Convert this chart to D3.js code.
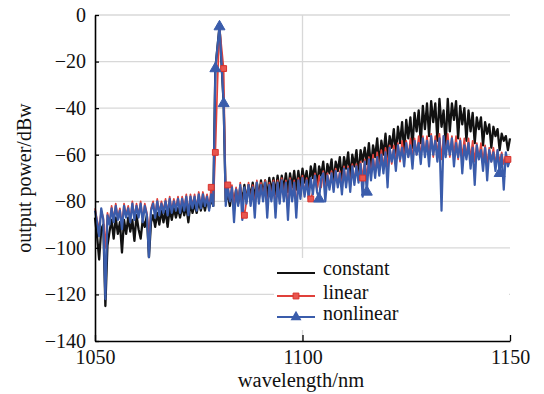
<!DOCTYPE html>
<html><head><meta charset="utf-8">
<script src="https://cdn.jsdelivr.net/npm/d3@7"></script>
<style>body{margin:0;background:#fff}svg{display:block}text{font-family:"Liberation Serif","Times New Roman",serif;}</style>
</head><body>
<svg id="c" width="544" height="394"></svg>
<script>
// ---- data (wavelength grid: 1050 .. 1150 nm, 0.5 nm step) ----
const startNm = 1050, stepNm = 0.5;
const constantVals = [
-87,-95,-105,-92,-90,-125,-99,-93,-88,-96,
-87,-94,-89,-102,-88,-94,-87,-93,-88,-97,
-86,-92,-96,-88,-91,-86,-104,-89,-86,-91,
-85,-90,-84,-89,-84,-91,-83,-88,-83,-87,
-83,-87,-82,-86,-82,-89,-81,-85,-81,-85,
-80,-84,-80,-84,-79,-83,-79,-82,-23,-14,
-5,-21,-38,-80,-77,-82,-76,-81,-75,-81,
-74,-80,-73,-80,-73,-78,-72,-79,-72,-78,
-71,-77,-71,-78,-70,-76,-70,-77,-69,-76,
-69,-75,-68,-76,-68,-74,-67,-75,-67,-74,
-66,-72,-67,-75,-65,-70,-64,-74,-65,-69,
-63,-73,-64,-68,-62,-72,-63,-67,-61,-71,
-61,-66,-59,-70,-60,-65,-58,-69,-58,-63,
-57,-64,-55,-66,-56,-61,-53,-65,-54,-60,
-51,-62,-52,-57,-49,-60,-48,-55,-46,-59,
-45,-53,-44,-57,-42,-50,-41,-55,-39,-49,
-38,-52,-37,-46,-38,-54,-36,-48,-41,-56,
-36,-50,-38,-45,-37,-53,-39,-47,-40,-54,
-41,-50,-42,-55,-44,-49,-44,-56,-46,-51,
-47,-57,-48,-52,-49,-58,-51,-54,-52,-58,
-53];
const linearVals = [
-83,-88,-92,-84,-87,-100,-85,-89,-82,-88,
-81,-87,-83,-90,-81,-86,-82,-88,-80,-87,
-81,-86,-80,-88,-81,-85,-95,-83,-80,-86,
-79,-85,-80,-84,-79,-85,-78,-84,-79,-83,
-78,-84,-78,-83,-77,-85,-77,-82,-77,-83,
-76,-82,-76,-81,-77,-83,-74,-81,-59,-30,
-5,-14,-23,-79,-73,-80,-73,-82,-74,-81,
-72,-82,-86,-80,-72,-81,-73,-83,-71,-80,
-72,-79,-71,-84,-72,-79,-71,-83,-71,-80,
-70,-79,-71,-84,-70,-79,-71,-83,-70,-78,
-69,-77,-70,-78,-79,-76,-68,-75,-69,-74,
-67,-76,-68,-74,-67,-75,-66,-73,-67,-74,
-65,-73,-65,-74,-64,-72,-64,-71,-63,-70,
-62,-70,-61,-69,-60,-68,-59,-67,-58,-66,
-57,-65,-56,-64,-56,-63,-55,-63,-54,-62,
-54,-61,-53,-62,-53,-60,-52,-61,-52,-60,
-52,-60,-51,-61,-52,-60,-51,-62,-52,-60,
-51,-61,-52,-60,-52,-62,-53,-61,-53,-61,
-53,-62,-54,-63,-55,-62,-55,-63,-56,-64,
-57,-63,-57,-64,-58,-63,-59,-64,-60,-62,
-61];
const nonlinearVals = [
-84,-89,-95,-83,-88,-122,-86,-90,-83,-89,
-82,-88,-84,-92,-82,-87,-83,-89,-81,-88,
-82,-87,-81,-89,-82,-86,-104,-84,-81,-87,
-80,-86,-81,-85,-80,-86,-79,-85,-80,-84,
-79,-85,-79,-84,-78,-86,-78,-83,-78,-84,
-77,-83,-77,-82,-78,-84,-77,-82,-23,-14,
-5,-21,-38,-82,-74,-80,-74,-89,-75,-82,
-73,-88,-74,-81,-73,-82,-74,-87,-72,-81,
-73,-80,-72,-87,-73,-80,-72,-87,-72,-81,
-71,-80,-72,-88,-71,-80,-72,-87,-71,-79,
-70,-78,-71,-79,-70,-77,-69,-76,-79,-70,
-68,-80,-69,-75,-68,-76,-67,-74,-68,-77,
-66,-74,-66,-76,-65,-73,-65,-72,-64,-78,
-63,-76,-62,-71,-62,-70,-61,-69,-60,-68,
-59,-74,-57,-63,-58,-67,-56,-62,-57,-65,
-55,-61,-56,-66,-54,-60,-55,-64,-53,-61,
-54,-65,-52,-60,-54,-63,-53,-84,-52,-61,
-54,-60,-53,-65,-55,-61,-54,-68,-56,-62,
-55,-66,-57,-73,-56,-62,-58,-67,-57,-71,
-58,-63,-59,-67,-58,-68,-60,-75,-59,-65,
-62];
const linearMarkerNm = [1078, 1079, 1081, 1082, 1086, 1102, 1114.5, 1149.5];
const nonlinearMarkerNm = [1079, 1080, 1081, 1104, 1115.5, 1147.5];
const xTicks = [1050, 1100, 1150];
const yTicks = [-140, -120, -100, -80, -60, -40, -20, 0];
const seriesNames = ["constant", "linear", "nonlinear"];

// ---- drawing ----
const svg = d3.select("#c");
const x = d3.scaleLinear().domain([1050, 1150]).range([95, 510]);
const y = d3.scaleLinear().domain([-140, 0]).range([341, 15]);
const toPts = vals => vals.map((v, i) => ({nm: startNm + stepNm * i, v}));
const cData = toPts(constantVals), lData = toPts(linearVals), nData = toPts(nonlinearVals);
const col = {constant: "#111111", linear: "#e0403a", nonlinear: "#3a5cab"};

// grid
const grid = svg.append("g");
grid.selectAll("line.h").data(yTicks.filter(t => t > -140)).enter().append("line")
  .attr("x1", 95).attr("x2", 510).attr("y1", d => y(d)).attr("y2", d => y(d))
  .attr("stroke", "#d8d8d8").attr("stroke-width", 1.3);
grid.append("line").attr("x1", x(1100)).attr("x2", x(1100)).attr("y1", y(0)).attr("y2", y(-140))
  .attr("stroke", "#d8d8d8").attr("stroke-width", 1.3);

// lines
const line = d3.line().x(d => x(d.nm)).y(d => y(d.v));
[[cData, "constant", 2.3], [lData, "linear", 1.7], [nData, "nonlinear", 2.2]].forEach(([d, k, w]) => {
  svg.append("path").datum(d).attr("d", line).attr("fill", "none")
    .attr("stroke", col[k]).attr("stroke-width", w).attr("stroke-linejoin", "round");
});

// markers
const findPt = (data, nm) => data.find(p => Math.abs(p.nm - nm) < 1e-6);
const sq = d3.symbol().type(d3.symbolSquare).size(34);
const tri = d3.symbol().type(d3.symbolTriangle).size(52);
svg.append("g").selectAll("path").data(linearMarkerNm.map(n => findPt(lData, n))).enter().append("path")
  .attr("d", sq).attr("transform", d => `translate(${x(d.nm)},${y(d.v)})`)
  .attr("fill", "#e8564f").attr("stroke", "#d8322c").attr("stroke-width", 1);
svg.append("g").selectAll("path").data(nonlinearMarkerNm.map(n => findPt(nData, n))).enter().append("path")
  .attr("d", tri).attr("transform", d => `translate(${x(d.nm)},${y(d.v)})`)
  .attr("fill", "#3a5cab").attr("stroke", "#3a5cab").attr("stroke-width", 1);

// legend
const lg = svg.append("g");
lg.append("rect").attr("x", 274).attr("y", 258).attr("width", 235).attr("height", 72).attr("fill", "#fff");
seriesNames.forEach((k, i) => {
  const ly = [273, 296, 317][i];
  lg.append("line").attr("x1", 277).attr("x2", 315).attr("y1", ly).attr("y2", ly)
    .attr("stroke", col[k]).attr("stroke-width", k === "linear" ? 1.8 : 2.2);
  if (k === "linear") lg.append("path").attr("d", sq).attr("transform", `translate(296,${ly})`)
    .attr("fill", "#e8564f").attr("stroke", "#d8322c");
  if (k === "nonlinear") lg.append("path").attr("d", tri).attr("transform", `translate(296,${ly})`)
    .attr("fill", "#3a5cab");
  lg.append("text").attr("x", 323).attr("y", [275, 299, 320][i]).attr("font-size", 20).attr("fill", "#111").text(k);
});

// axes
const ax = svg.append("g").attr("transform", `translate(95,0)`)
  .call(d3.axisLeft(y).tickValues(yTicks).tickSizeInner(-4).tickSizeOuter(0).tickPadding(9));
const bx = svg.append("g").attr("transform", `translate(0,341)`)
  .call(d3.axisBottom(x).tickValues(xTicks).tickFormat(d3.format("d")).tickSizeInner(-6).tickSizeOuter(0).tickPadding(9));
[ax, bx].forEach(g => {
  g.select(".domain").attr("stroke", "#000").attr("stroke-width", 1.6);
  g.selectAll(".tick line").attr("stroke", "#000").attr("stroke-width", 1.3);
  g.selectAll("text").attr("font-size", 20).attr("fill", "#111")
    .attr("font-family", '"Liberation Serif","Times New Roman",serif');
});

svg.append("text").attr("x", 301).attr("y", 387).attr("text-anchor", "middle")
  .attr("font-size", 20.5).attr("fill", "#111").text("wavelength/nm");
svg.append("text").attr("transform", "translate(31,178) rotate(-90)").attr("text-anchor", "middle")
  .attr("font-size", 20).attr("fill", "#111").text("output power/dBw");
</script>
</body></html>
